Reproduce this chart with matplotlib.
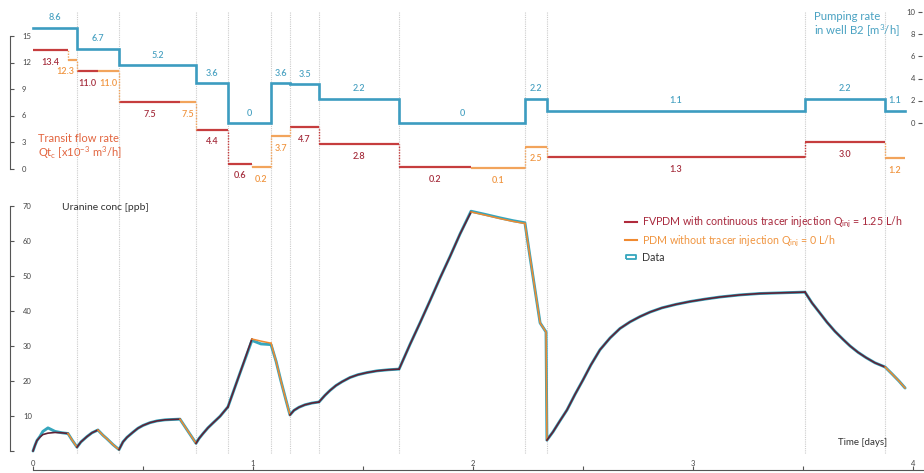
import numpy as np
import matplotlib
matplotlib.use("Agg")
import matplotlib.pyplot as plt
from matplotlib import transforms
from matplotlib.lines import Line2D

plt.rcParams['font.family'] = ['Lato', 'DejaVu Sans']
plt.rcParams['mathtext.default'] = 'regular'

# ---------------- step data (time in days) ----------------
step_edges = [0.0, 0.2, 0.391, 0.741, 0.886, 1.082, 1.168, 1.3, 1.664,
              2.236, 2.336, 3.509, 3.873, 3.964]
pump_rate = [8.6, 6.7, 5.2, 3.6, 0.0, 3.6, 3.5, 2.2, 0.0, 2.2, 1.1, 2.2, 1.1]
qt_fvpdm = [13.4, 11.0, 7.5, 4.4, 0.6, 3.7, 4.7, 2.8, 0.2, 2.5, 1.3, 3.0, 1.2]
qt_pdm = [12.3, 11.0, 7.5, 4.4, 0.2, 3.7, 4.7, 2.8, 0.1, 2.5, 1.3, 3.0, 1.2]
# time at which the PDM estimate takes over from the FVPDM within each step
pdm_start = [0.159, 0.295, 0.668, 0.886, 0.995, 1.082, 1.3, 1.664, 1.991,
             2.236, 3.509, 3.873, 3.873]

# ---------------- uranine concentration (ppb) ----------------
conc_time = [0.000, 0.009, 0.018, 0.032, 0.045, 0.068, 0.100, 0.132, 0.159, 0.177,
             0.200, 0.218, 0.245, 0.268, 0.295, 0.318, 0.336, 0.364, 0.391, 0.409,
             0.427, 0.455, 0.477, 0.500, 0.532, 0.564, 0.600, 0.632, 0.668, 0.686,
             0.705, 0.723, 0.741, 0.755, 0.773, 0.795, 0.818, 0.850, 0.886, 0.941,
             0.995, 1.036, 1.082, 1.105, 1.127, 1.150, 1.168, 1.186, 1.209, 1.236,
             1.268, 1.300, 1.327, 1.350, 1.377, 1.405, 1.441, 1.477, 1.518, 1.564,
             1.614, 1.664, 1.714, 1.759, 1.805, 1.850, 1.895, 1.941, 1.991, 2.055,
             2.123, 2.182, 2.236, 2.259, 2.282, 2.305, 2.332, 2.336, 2.364, 2.395,
             2.427, 2.464, 2.500, 2.536, 2.577, 2.623, 2.668, 2.714, 2.759, 2.805,
             2.859, 2.923, 2.986, 3.055, 3.123, 3.214, 3.305, 3.405, 3.509, 3.541,
             3.577, 3.609, 3.645, 3.682, 3.714, 3.750, 3.786, 3.827, 3.873, 3.905,
             3.936, 3.964]
conc_model = [0.0, 1.6, 3.0, 4.0, 4.7, 5.1, 5.3, 5.2, 5.0, 3.2,
              1.1, 2.6, 4.1, 5.2, 6.0, 4.5, 3.5, 1.8, 0.4, 2.6,
              3.9, 5.4, 6.5, 7.3, 8.1, 8.6, 8.9, 9.0, 9.1, 7.4,
              5.6, 3.9, 2.2, 3.6, 5.0, 6.6, 8.0, 9.9, 12.6, 22.3,
              32.0, 31.4, 30.8, 25.6, 20.0, 14.5, 10.3, 11.6, 12.5, 13.2,
              13.7, 14.0, 15.9, 17.3, 18.7, 19.8, 21.0, 21.8, 22.4, 22.9,
              23.2, 23.4, 30.5, 36.6, 43.0, 49.4, 55.5, 62.0, 68.3, 67.4,
              66.4, 65.6, 65.0, 55.5, 46.0, 36.6, 34.0, 3.1, 5.5, 8.6,
              11.7, 16.2, 20.3, 24.6, 28.9, 32.3, 35.0, 36.9, 38.4, 39.7,
              40.9, 41.9, 42.7, 43.4, 44.0, 44.6, 45.0, 45.2, 45.4, 42.3,
              39.4, 36.8, 34.2, 31.9, 30.0, 28.2, 26.7, 25.2, 24.0, 22.0,
              20.0, 18.0]
conc_data = [0.0, 1.6, 3.0, 4.2, 5.6, 6.6, 5.6, 5.2, 5.0, 3.2,
             1.1, 2.6, 4.1, 5.2, 6.0, 4.5, 3.5, 1.8, 0.4, 2.6,
             3.9, 5.4, 6.5, 7.3, 8.1, 8.6, 8.9, 9.0, 9.1, 7.4,
             5.6, 3.9, 2.2, 3.6, 5.0, 6.6, 8.0, 9.9, 12.6, 22.3,
             31.6, 30.6, 30.4, 25.6, 20.0, 14.5, 10.3, 11.6, 12.5, 13.2,
             13.7, 14.0, 15.9, 17.3, 18.7, 19.8, 21.0, 21.8, 22.4, 22.9,
             23.2, 23.4, 30.5, 36.6, 43.0, 49.4, 55.5, 62.0, 68.5, 67.6,
             66.6, 65.8, 65.2, 55.5, 46.0, 36.6, 34.0, 3.1, 5.5, 8.6,
             11.7, 16.2, 20.3, 24.6, 28.9, 32.3, 35.0, 36.9, 38.4, 39.7,
             40.9, 41.9, 42.7, 43.4, 44.0, 44.6, 45.0, 45.2, 45.4, 42.3,
             39.4, 36.8, 34.2, 31.9, 30.0, 28.2, 26.7, 25.2, 24.0, 22.0,
             20.0, 18.0]

left_ticks_q = [0, 3, 6, 9, 12, 15]
right_ticks_p = [0, 2, 4, 6, 8, 10]
conc_ticks = [0, 10, 20, 30, 40, 50, 60, 70]
day_ticks = [0, 1, 2, 3, 4]

# ---------------- styling ----------------
BLUE = '#3c9cc0'
BLUE_TXT = '#4aa2c2'
RED = '#c63d3e'
RED_TXT = '#a52d3c'
RED_CURVE = '#5e2236'
ORANGE = '#f2a45c'
ORANGE_TXT = '#f09540'
ORANGE_CURVE = '#f08a30'
TEAL = '#35a6bd'
AXIS = '#555555'
TICK_TXT = '#444444'
GRID = '#cccccc'

W, H = 924, 473
fig = plt.figure(figsize=(W / 100, H / 100), dpi=100)
fig.patch.set_facecolor('white')


def fx(px):
    return px / W


def fy(py):
    return 1 - py / H


T0_PX, DAY_PX = 33, 220.0


def t_at(px):
    return (px - T0_PX) / DAY_PX


# ---------------- axes ----------------
ax_c = fig.add_axes([fx(10), fy(470), fx(922) - fx(10), fy(200) - fy(470)])
ax_c.set_xlim(t_at(10), t_at(922))
ax_c.set_ylim((451 - 470) / 3.5, (451 - 200) / 3.5)

ax_q = fig.add_axes([fx(10), fy(185), fx(922) - fx(10), fy(5) - fy(185)])
ax_q.set_xlim(t_at(10), t_at(922))
QS = (169 - 36) / 15.0
ax_q.set_ylim((169 - 185) / QS, (169 - 5) / QS)
ax_p = ax_q.twinx()
PS = (123 - 12) / 10.0
ax_p.set_ylim((123 - 185) / PS, (123 - 5) / PS)

for ax in (ax_c, ax_q, ax_p):
    ax.patch.set_alpha(0)
    for s in ax.spines.values():
        s.set_visible(False)
    ax.set_xticks([])
    ax.set_yticks([])

# left axis of the transit flow panel
ax_q.spines['left'].set_visible(True)
ax_q.spines['left'].set_bounds(0, 15)
ax_q.spines['left'].set_color(AXIS)
ax_q.spines['left'].set_linewidth(0.8)
ax_q.set_yticks(left_ticks_q)
ax_q.tick_params(axis='y', direction='in', length=3, width=0.8, color=AXIS,
                 labelleft=False)
tr_q = transforms.blended_transform_factory(fig.transFigure, ax_q.transData)
for v in left_ticks_q:
    fig.text(fx(22), v, f"{v}", transform=tr_q, ha='left', va='center',
             fontsize=5.5, color=TICK_TXT)

# right axis of the pumping rate
ax_p.set_yticks(right_ticks_p)
ax_p.tick_params(axis='y', direction='in', length=3, width=0.8, color=AXIS,
                 labelright=False)
tr_p = transforms.blended_transform_factory(fig.transFigure, ax_p.transData)
for v in right_ticks_p:
    fig.text(fx(915), v, f"{v}", transform=tr_p, ha='right', va='center',
             fontsize=5.5, color=TICK_TXT)

# concentration axis
ax_c.spines['left'].set_visible(True)
ax_c.spines['left'].set_bounds(0, 70)
ax_c.spines['left'].set_color(AXIS)
ax_c.spines['left'].set_linewidth(0.8)
ax_c.set_yticks(conc_ticks)
ax_c.tick_params(axis='y', direction='in', length=3, width=0.8, color=AXIS,
                 labelleft=False)
tr_c = transforms.blended_transform_factory(fig.transFigure, ax_c.transData)
for v in conc_ticks[1:]:
    fig.text(fx(23), v, f"{v}", transform=tr_c, ha='left', va='center',
             fontsize=5.5, color=TICK_TXT)

# time axis
ax_c.spines['bottom'].set_visible(True)
ax_c.spines['bottom'].set_bounds(0, t_at(924))
ax_c.spines['bottom'].set_color(AXIS)
ax_c.spines['bottom'].set_linewidth(0.8)
ax_c.set_xticks(day_ticks)
ax_c.set_xticks([d + 0.5 for d in day_ticks[:-1]], minor=True)
ax_c.tick_params(axis='x', which='both', direction='in', length=3, width=0.8,
                 color=AXIS, labelbottom=False)
tr_x = transforms.blended_transform_factory(ax_c.transData, fig.transFigure)
for d in day_ticks:
    fig.text(d, fy(463), f"{d}", transform=tr_x, ha='center', va='center',
             fontsize=5.5, color=TICK_TXT)

# vertical guides at each change of pumping regime
for t in step_edges[1:-1]:
    fig.add_artist(Line2D([t, t], [fy(12), fy(454)], transform=tr_x,
                          color=GRID, lw=0.8, ls=(0, (1, 1)), zorder=-1))

# ---------------- pumping rate steps ----------------
ax_p.step(step_edges, pump_rate + [pump_rate[-1]], where='post',
          color=BLUE, lw=1.9, solid_joinstyle='miter')
for i, v in enumerate(pump_rate):
    mid = 0.5 * (step_edges[i] + step_edges[i + 1])
    ax_p.annotate(f"{v:g}", xy=(mid, v), xytext=(0, 10),
                  textcoords='offset pixels', ha='center', va='center',
                  fontsize=6.5, color=BLUE_TXT, fontweight='semibold')

# ---------------- transit flow rate steps ----------------
parts = []
for i in range(len(qt_fvpdm)):
    a, s, b = step_edges[i], pdm_start[i], step_edges[i + 1]
    if s > a:
        parts.append((a, s, qt_fvpdm[i], 'fv'))
    if b > s:
        parts.append((s, b, qt_pdm[i], 'pdm'))

for k, (a, b, v, kind) in enumerate(parts):
    col = RED if kind == 'fv' else ORANGE
    tcol = RED_TXT if kind == 'fv' else ORANGE_TXT
    ax_q.hlines(v, a, b, color=col, lw=1.6)
    # very short pieces get their value nudged left, clear of the next step
    dx = -7 if (b - a) < 0.06 else 0
    ax_q.annotate(f"{v:.1f}", xy=(0.5 * (a + b), v), xytext=(dx, -12),
                  textcoords='offset pixels', ha='center', va='center',
                  fontsize=6.5, color=tcol, fontweight='semibold')
    if k > 0:
        pv = parts[k - 1][2]
        if pv != v:
            ccol = RED if (kind == 'fv' and parts[k - 1][3] == 'fv') else ORANGE
            ax_q.vlines(a, min(pv, v), max(pv, v), color=ccol, lw=1.0,
                        ls=(0, (1, 1)))

# ---------------- concentration curves ----------------
ct = np.array(conc_time)
cm = np.array(conc_model)
ax_c.plot(ct, conc_data, color=TEAL, lw=2.1, solid_capstyle='round', zorder=2)
eps = 1e-9
for i in range(len(qt_fvpdm)):
    a, s, b = step_edges[i], pdm_start[i], step_edges[i + 1]
    m_fv = (ct >= a - eps) & (ct <= s + eps)
    m_pdm = (ct >= s - eps) & (ct <= b + eps)
    if m_fv.sum() > 1:
        ax_c.plot(ct[m_fv], cm[m_fv], color=RED_CURVE, lw=1.2, zorder=3)
    if m_pdm.sum() > 1:
        ax_c.plot(ct[m_pdm], cm[m_pdm], color=ORANGE_CURVE, lw=1.1, zorder=3)

# ---------------- texts ----------------
fig.text(fx(38), fy(138), "Transit flow rate", color='#e2643e', fontsize=8,
         ha='left', va='center')
fig.text(fx(38), fy(153), r"Qt$_{c}$ [x10$^{-3}$ m$^{3}$/h]", color='#e2643e',
         fontsize=8, ha='left', va='center')
fig.text(fx(814), fy(17), "Pumping rate", color=BLUE_TXT, fontsize=8.2,
         ha='left', va='center')
fig.text(fx(814), fy(31), r"in well B2 [m$^{3}$/h]", color=BLUE_TXT,
         fontsize=8.2, ha='left', va='center')
fig.text(fx(62), fy(207), "Uranine conc [ppb]", color='#333333', fontsize=7.5,
         ha='left', va='center')
fig.text(fx(838), fy(442), "Time [days]", color='#333333', fontsize=7,
         ha='left', va='center')

rect = [(-1, -0.45), (1, -0.45), (1, 0.45), (-1, 0.45), (-1, -0.45)]
handles = [Line2D([], [], color='#b02a3c', lw=1.5),
           Line2D([], [], color=ORANGE_CURVE, lw=1.5),
           Line2D([], [], ls='none', marker=rect, ms=7, mfc='white',
                  mec=TEAL, mew=1.3)]
labels = [r"FVPDM with continuous tracer injection Q$_{inj}$ = 1.25 L/h",
          r"PDM without tracer injection Q$_{inj}$ = 0 L/h",
          "Data"]
leg = fig.legend(handles, labels, loc='upper left',
                 bbox_to_anchor=(fx(625), fy(215)), frameon=False,
                 fontsize=7.7, handlelength=1.1, handletextpad=0.5,
                 labelspacing=0.3, borderaxespad=0, borderpad=0)
for txt, c in zip(leg.get_texts(), ['#a8283c', ORANGE_TXT, '#333333']):
    txt.set_color(c)

fig.savefig('out.png', dpi=100, facecolor='white')
